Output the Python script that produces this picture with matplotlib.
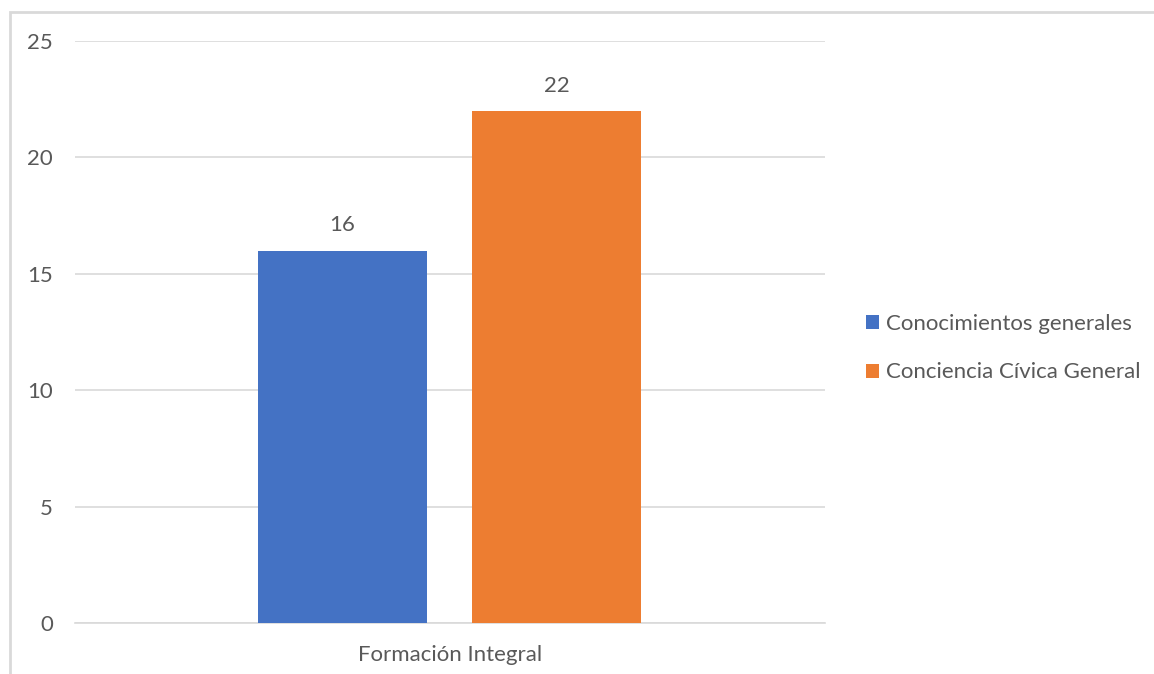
import matplotlib.pyplot as plt
from matplotlib.patches import Rectangle

# Datos del gráfico
categoria = "Formación Integral"
series = ["Conocimientos generales", "Conciencia Cívica General"]
valores = [16, 22]
colores = ["#4472c4", "#ed7d31"]

plt.rcParams['font.family'] = ['Lato', 'DejaVu Sans']
texto = "#595959"
rejilla = "#d9d9d9"
fs = 16

W, H = 1154, 674
fig = plt.figure(figsize=(W / 100, H / 100), dpi=100)

# marco del gráfico (recortado a la derecha y abajo)
fig.patches.append(Rectangle((10 / W, -0.1), 1.2, (H - 12) / H + 0.1,
                             transform=fig.transFigure, fill=False,
                             edgecolor=rejilla, linewidth=2))

# área de trazado: x 75..825 px, y 41..623 px
ax = fig.add_axes([75 / W, 1 - 623 / H, 750 / W, 582 / H])
ax.set_xlim(-0.5, 0.5)
ax.set_ylim(0, 25)

ancho = 169 / 750
desplaz = [-0.1433, 0.142]
for d, v, c, s in zip(desplaz, valores, colores, series):
    ax.bar(d, v, width=ancho, color=c, label=s, zorder=3)
    ax.text(d, v + 0.65, str(v), ha='center', va='bottom', fontsize=fs, color=texto)

ax.set_yticks(range(0, 26, 5))
ax.grid(axis='y', color=rejilla, linewidth=1.2, zorder=0)
ax.tick_params(axis='y', length=0, pad=16, labelsize=fs, labelcolor=texto)
ax.set_xticks([0])
ax.set_xticklabels([categoria])
ax.tick_params(axis='x', length=0, pad=16, labelsize=fs, labelcolor=texto)
for sp in ['top', 'right', 'left']:
    ax.spines[sp].set_visible(False)
ax.spines['bottom'].set_color(rejilla)
ax.spines['bottom'].set_linewidth(1.2)

leg = ax.legend(loc='center left', bbox_to_anchor=((866 - 75) / 750, (623 - 348) / 582),
                frameon=False, fontsize=fs, handlelength=0.6, handleheight=0.6,
                handletextpad=0.3, labelspacing=1.3, labelcolor=texto,
                borderaxespad=0, borderpad=0)

fig.savefig('out.png', dpi=100)
